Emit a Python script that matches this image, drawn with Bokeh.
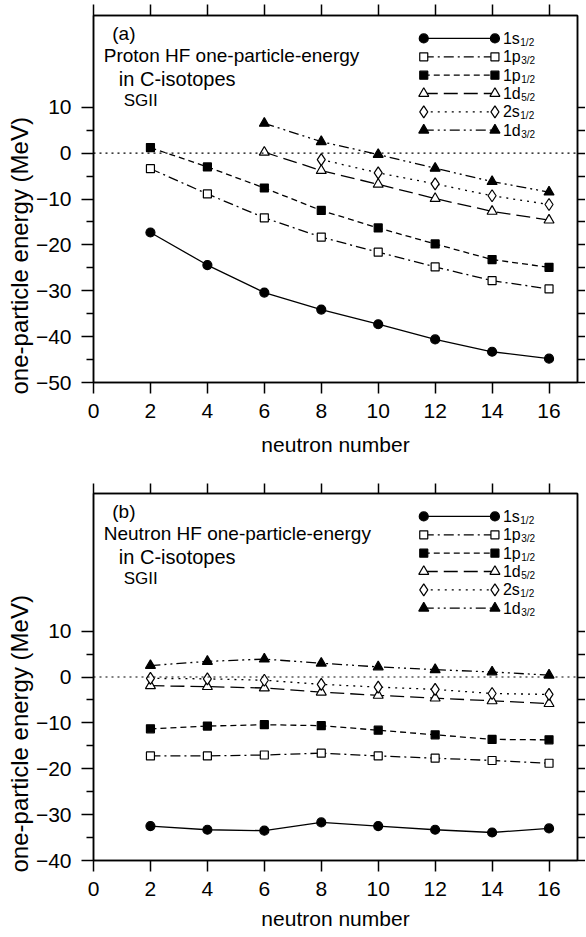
from bokeh.plotting import figure
from bokeh.models import LinearAxis, FixedTicker, Span, Label, Range1d, Title
from bokeh.layouts import column
from bokeh.embed import file_html
from bokeh.resources import INLINE

# ---------------- data ----------------
neutron_number = [2, 4, 6, 8, 10, 12, 14, 16]
neutron_number_d = [6, 8, 10, 12, 14, 16]      # proton 1d levels exist from N=6
neutron_number_2s = [8, 10, 12, 14, 16]        # proton 2s level exists from N=8

orbital_keys = ["1s12", "1p32", "1p12", "1d52", "2s12", "1d32"]
orbital_base = ["1s", "1p", "1p", "1d", "2s", "1d"]
orbital_sub = ["1/2", "3/2", "1/2", "5/2", "1/2", "3/2"]

# (a) proton HF single-particle energies (MeV)
proton_1s12 = [-17.3, -24.4, -30.4, -34.1, -37.3, -40.6, -43.3, -44.8]
proton_1p32 = [-3.4, -8.9, -14.1, -18.3, -21.6, -24.8, -27.8, -29.6]
proton_1p12 = [1.2, -3.0, -7.6, -12.5, -16.3, -19.8, -23.2, -24.9]
proton_1d52 = [0.2, -3.8, -6.8, -9.9, -12.7, -14.6]
proton_2s12 = [-1.4, -4.3, -6.7, -9.3, -11.2]
proton_1d32 = [6.5, 2.5, -0.3, -3.3, -6.2, -8.5]

# (b) neutron HF single-particle energies (MeV)
neutron_1s12 = [-32.5, -33.3, -33.5, -31.7, -32.5, -33.3, -33.9, -33.0]
neutron_1p32 = [-17.2, -17.2, -17.0, -16.6, -17.2, -17.7, -18.2, -18.8]
neutron_1p12 = [-11.3, -10.7, -10.4, -10.6, -11.6, -12.6, -13.6, -13.7]
neutron_1d52 = [-1.9, -2.1, -2.4, -3.3, -4.0, -4.6, -5.2, -5.8]
neutron_2s12 = [-0.3, -0.4, -0.7, -1.6, -2.2, -2.7, -3.6, -3.8]
neutron_1d32 = [2.5, 3.4, 3.9, 3.0, 2.2, 1.6, 1.1, 0.4]

x_ticks = [0, 2, 4, 6, 8, 10, 12, 14, 16]

# ---------------- styles ----------------
FONT = "Liberation Sans"
STYLE = {
    "1s12": dict(marker="circle", fill="black", dash="solid", size=9),
    "1p32": dict(marker="square", fill="white", dash="10 4 2 4", size=8),
    "1p12": dict(marker="square", fill="black", dash="6 4", size=8),
    "1d52": dict(marker="triangle", fill="white", dash="14 6", size=10),
    "2s12": dict(marker="diamond", fill="white", dash="2 5", size=12),
    "1d32": dict(marker="triangle", fill="black", dash="10 4 2 4 2 4", size=10),
}
BASE_W = {"1s": 1.056, "1p": 1.112, "1d": 1.112, "2s": 1.056}


def build(ylo, yhi, yticks, yminor, series, tag, title1, border_top, border_bottom,
          xlabel_standoff, top_tick):
    p = figure(frame_width=484, frame_height=367,
               x_range=Range1d(0, 17), y_range=Range1d(ylo, yhi),
               output_backend="svg", toolbar_location=None,
               x_axis_location=None, y_axis_location=None,
               min_border_left=93, min_border_right=0,
               min_border_top=border_top, min_border_bottom=border_bottom,
               background_fill_color="white", border_fill_color="white")
    p.outline_line_color = "black"
    p.outline_line_width = 1.5
    p.grid.grid_line_color = None

    xt = FixedTicker(ticks=x_ticks, minor_ticks=[])
    yt = FixedTicker(ticks=yticks, minor_ticks=yminor)

    common = dict(axis_line_width=1.5, major_tick_line_width=1.5, minor_tick_line_width=1.5,
                  major_tick_in=0, minor_tick_in=0, axis_line_color="black",
                  major_tick_line_color="black", minor_tick_line_color="black")
    below = LinearAxis(ticker=xt, axis_label="neutron number",
                       major_tick_out=11, major_label_standoff=10,
                       major_label_text_font=FONT, major_label_text_font_size="21px",
                       major_label_text_color="black",
                       axis_label_text_font=FONT, axis_label_text_font_size="21px",
                       axis_label_text_color="black",
                       axis_label_text_font_style="normal",
                       axis_label_standoff=xlabel_standoff, **common)
    above = LinearAxis(ticker=xt, major_tick_out=top_tick, major_label_standoff=0,
                       major_label_overrides={t: "" for t in x_ticks},
                       major_label_text_font_size="1px", **common)
    left = LinearAxis(ticker=yt,
                      major_tick_out=12, minor_tick_out=7, major_label_standoff=10,
                      major_label_text_font=FONT, major_label_text_font_size="21px",
                      major_label_text_color="black", **common)
    right = LinearAxis(ticker=yt, major_tick_out=8, minor_tick_out=8, major_label_standoff=0,
                       major_label_overrides={t: "" for t in yticks},
                       major_label_text_font_size="1px", **common)
    p.add_layout(below, "below")
    p.add_layout(above, "above")
    p.add_layout(left, "left")
    p.add_layout(right, "right")

    # y-axis title: starts just below the frame bottom, as in the original
    p.add_layout(Title(text="one-particle energy (MeV)", align="left", offset=-12,
                       standoff=0, text_font=FONT, text_font_size="24px",
                       text_font_style="normal", text_color="black"), "left")

    p.add_layout(Span(location=0, dimension="width", line_color="black",
                      line_width=1.2, line_dash="2 4"))

    for key, xs, ys in series:
        st = STYLE[key]
        p.line(xs, ys, line_color="black", line_width=1.3, line_dash=st["dash"])
        p.scatter(xs, ys, marker=st["marker"], size=st["size"], fill_color=st["fill"],
                  line_color="black", line_width=1.2)

    # legend (drawn by hand to allow subscripts)
    for i, key in enumerate(orbital_keys):
        st = STYLE[key]
        ry = yhi - 5 - 4 * i
        lx = [11.6, 14.1]
        p.line(lx, [ry, ry], line_color="black", line_width=1.3, line_dash=st["dash"])
        p.scatter(lx, [ry, ry], marker=st["marker"], size=st["size"], fill_color=st["fill"],
                  line_color="black", line_width=1.2)
        base = orbital_base[i]
        p.add_layout(Label(x=14.38, y=ry, text=base, text_font=FONT, text_font_size="16px",
                           text_baseline="middle", text_color="black"))
        p.add_layout(Label(x=14.38, y=ry, x_offset=BASE_W[base] * 16 + 0.5, y_offset=-4,
                           text=orbital_sub[i], text_font=FONT, text_font_size="10px",
                           text_baseline="middle", text_color="black"))

    # panel annotations
    p.add_layout(Label(x=0.66, y=yhi - 3.9, text=tag, text_font=FONT, text_font_size="19px",
                       text_baseline="middle", text_color="black"))
    p.add_layout(Label(x=0.36, y=yhi - 8.7, text=title1, text_font=FONT, text_font_size="19px",
                       text_baseline="middle", text_color="black"))
    p.add_layout(Label(x=0.89, y=yhi - 13.9, text="in C-isotopes", text_font=FONT,
                       text_font_size="20px", text_baseline="middle", text_color="black"))
    p.add_layout(Label(x=1.06, y=yhi - 18.5, text="SGII", text_font=FONT, text_font_size="17px",
                       text_baseline="middle", text_color="black"))
    return p


proton_series = [
    ("1s12", neutron_number, proton_1s12),
    ("1p32", neutron_number, proton_1p32),
    ("1p12", neutron_number, proton_1p12),
    ("1d52", neutron_number_d, proton_1d52),
    ("2s12", neutron_number_2s, proton_2s12),
    ("1d32", neutron_number_d, proton_1d32),
]
neutron_series = [
    ("1s12", neutron_number, neutron_1s12),
    ("1p32", neutron_number, neutron_1p32),
    ("1p12", neutron_number, neutron_1p12),
    ("1d52", neutron_number, neutron_1d52),
    ("2s12", neutron_number, neutron_2s12),
    ("1d32", neutron_number, neutron_1d32),
]

p1 = build(-50, 30, [-50, -40, -30, -20, -10, 0, 10], [-45, -35, -25, -15, -5, 5],
           proton_series, "(a)", "Proton HF one-particle-energy", 15, 90, 12, 11)
p2 = build(-40, 40, [-40, -30, -20, -10, 0, 10], [-35, -25, -15, -5, 5],
           neutron_series, "(b)", "Neutron HF one-particle-energy", 21, 60, 8, 10)

layout = column(p1, p2, spacing=0)
open("out.html", "w").write(file_html(layout, INLINE))
